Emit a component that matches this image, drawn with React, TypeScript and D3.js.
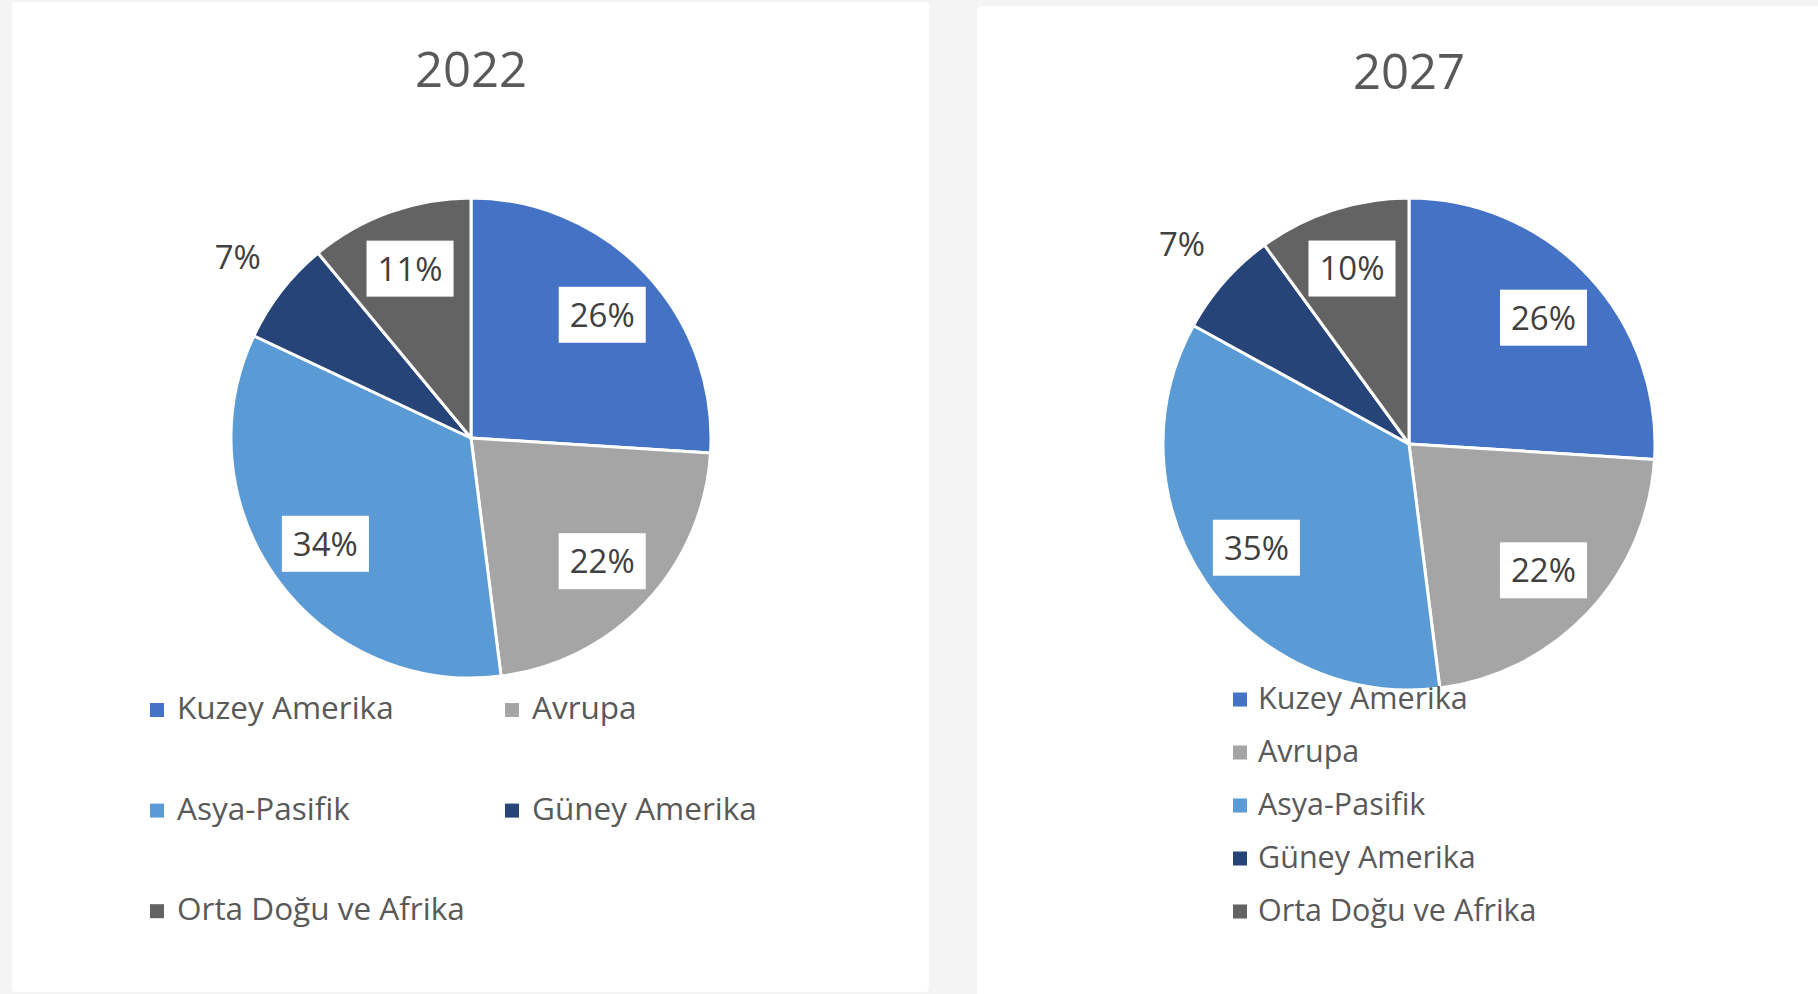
import { useRef, useEffect } from "react";
import * as d3 from "d3";

const regions = ["Kuzey Amerika", "Avrupa", "Asya-Pasifik", "Güney Amerika", "Orta Doğu ve Afrika"];
const colors = ["#4472C4", "#A5A5A5", "#5B9BD5", "#264478", "#636363"];
const share2022 = [26, 22, 34, 7, 11];
const share2027 = [26, 22, 35, 7, 10];

const WIDTH = 1818;
const HEIGHT = 994;
const FONT = "'Open Sans', sans-serif";

function drawPie(g, { title, values, cx, cy, r, titleY, legend }) {
  const data = regions.map((name, i) => ({ name, value: values[i], color: colors[i] }));

  // Title
  g.append("text")
    .attr("x", cx)
    .attr("y", titleY)
    .attr("text-anchor", "middle")
    .attr("fill", "#595959")
    .style("font-family", FONT)
    .style("font-size", "49px")
    .text(title);

  const pie = d3.pie().sort(null).value(d => d.value);
  const arc = d3.arc().innerRadius(0).outerRadius(r);
  const inLabel = d3.arc().innerRadius(r * 0.75).outerRadius(r * 0.75);
  const outLabel = d3.arc().innerRadius(r * 1.23).outerRadius(r * 1.23);
  const arcs = pie(data);

  const pieG = g.append("g").attr("transform", `translate(${cx},${cy})`);

  pieG.selectAll("path")
    .data(arcs)
    .enter()
    .append("path")
    .attr("d", arc)
    .attr("fill", d => d.data.color)
    .attr("stroke", "#ffffff")
    .attr("stroke-width", 3)
    .attr("stroke-linejoin", "round");

  // Data labels: white boxes inside, plain text outside for small slices
  arcs.forEach(d => {
    const small = d.data.value < 8;
    const [lx, ly] = small ? outLabel.centroid(d) : inLabel.centroid(d);
    const lg = pieG.append("g").attr("transform", `translate(${lx},${ly})`);
    const rect = lg.append("rect").attr("fill", small ? "none" : "#ffffff");
    const txt = lg.append("text")
      .attr("text-anchor", "middle")
      .attr("dy", "0.36em")
      .attr("fill", "#404040")
      .style("font-family", FONT)
      .style("font-size", "33px")
      .text(`${d.data.value}%`);
    const w = txt.node().getComputedTextLength() + 22;
    const h = 56;
    rect.attr("x", -w / 2).attr("y", -h / 2).attr("width", w).attr("height", h);
  });

  // Legend
  const lg = g.append("g");
  data.forEach((d, i) => {
    const col = i % legend.cols;
    const row = Math.floor(i / legend.cols);
    const x = legend.x + col * legend.colGap;
    const y = legend.y + row * legend.rowGap;
    lg.append("rect")
      .attr("x", x)
      .attr("y", y - legend.size - 2)
      .attr("width", legend.size)
      .attr("height", legend.size)
      .attr("fill", d.color);
    lg.append("text")
      .attr("x", x + legend.textOffset)
      .attr("y", y)
      .attr("fill", "#595959")
      .style("font-family", FONT)
      .style("font-size", `${legend.fontSize}px`)
      .text(d.name);
  });
}

export default function App() {
  const svgRef = useRef(null);

  useEffect(() => {
    const svg = d3.select(svgRef.current);
    svg.selectAll("*").remove();

    svg.append("rect").attr("width", WIDTH).attr("height", HEIGHT).attr("fill", "#f4f4f4");

    // panels
    svg.append("rect").attr("x", 12).attr("y", 2).attr("width", 917).attr("height", 990).attr("rx", 4).attr("fill", "#ffffff");
    svg.append("rect").attr("x", 977).attr("y", 6).attr("width", 860).attr("height", 1000).attr("rx", 4).attr("fill", "#ffffff");

    drawPie(svg.append("g"), {
      title: "2022",
      values: share2022,
      cx: 471,
      cy: 438,
      r: 240,
      titleY: 87,
      legend: { x: 150, y: 719, cols: 2, colGap: 355, rowGap: 100.6, size: 14, textOffset: 27, fontSize: 31.5 },
    });

    drawPie(svg.append("g"), {
      title: "2027",
      values: share2027,
      cx: 1409,
      cy: 444,
      r: 246,
      titleY: 89,
      legend: { x: 1233, y: 708.5, cols: 1, colGap: 0, rowGap: 53, size: 14, textOffset: 25, fontSize: 30.5 },
    });
  }, []);

  return (
    <svg
      ref={svgRef}
      width={WIDTH}
      height={HEIGHT}
      style={{ position: "absolute", top: 0, left: 0, display: "block" }}
    />
  );
}
